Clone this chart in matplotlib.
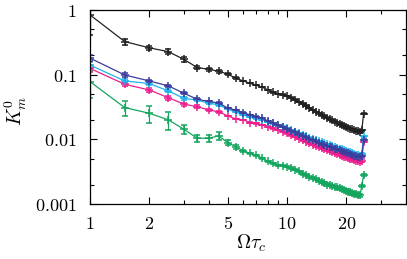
# K_m^0 versus Omega tau_c, log-log, with error bars
from matplotlib import pyplot as plt
from matplotlib.ticker import FixedLocator, NullFormatter
import matplotlib

matplotlib.rcParams['mathtext.fontset'] = 'cm'
matplotlib.rcParams['font.family'] = 'serif'
matplotlib.rcParams['font.serif'] = ['DejaVu Serif']

omega_tau = [1, 1.5, 2, 2.5, 3, 3.5, 4, 4.5, 5, 5.5, 6, 6.5, 7, 7.5, 8, 8.5,
             9, 9.5, 10, 10.5, 11, 11.5, 12, 12.5, 13, 13.5, 14, 14.5, 15, 15.5, 16, 16.5,
             17, 17.5, 18, 18.5, 19, 19.5, 20, 20.5, 21, 21.5, 22, 22.5, 23, 23.5, 24, 24.5]

k_black = [0.84, 0.325, 0.26, 0.227, 0.172, 0.129, 0.121, 0.113, 0.102, 0.088, 0.080, 0.0735,
           0.0685, 0.064, 0.058, 0.053, 0.050, 0.049, 0.0470, 0.044, 0.041, 0.038, 0.0355, 0.033,
           0.0305, 0.0285, 0.0265, 0.0252, 0.0238, 0.0226, 0.0215, 0.0205, 0.0196, 0.0187, 0.018, 0.0173,
           0.0167, 0.0161, 0.0156, 0.0151, 0.0147, 0.0143, 0.014, 0.0136, 0.0133, 0.0129, 0.0137, 0.025]
k_blue = [0.18, 0.099, 0.080, 0.067, 0.0515, 0.0418, 0.0385, 0.0365, 0.0305, 0.0284, 0.0258, 0.0238,
          0.0224, 0.0211, 0.0193, 0.0178, 0.0164, 0.0155, 0.0146, 0.0136, 0.0128, 0.0120, 0.0113, 0.0107,
          0.0102, 0.0097, 0.0093, 0.0089, 0.0086, 0.0083, 0.0080, 0.0077, 0.0075, 0.0072, 0.0070, 0.0068,
          0.0066, 0.0064, 0.0062, 0.0061, 0.0059, 0.0058, 0.0056, 0.0055, 0.0054, 0.0053, 0.0056, 0.0098]
k_cyan = [0.141, 0.080, 0.073, 0.056, 0.043, 0.0405, 0.0362, 0.0343, 0.0293, 0.0263, 0.0239, 0.0220,
          0.0211, 0.0200, 0.0188, 0.0177, 0.0167, 0.0157, 0.0148, 0.0139, 0.0131, 0.0124, 0.0117, 0.0111,
          0.0106, 0.0101, 0.0097, 0.0093, 0.0090, 0.0087, 0.0084, 0.0081, 0.0078, 0.0076, 0.0074, 0.0072,
          0.0070, 0.0068, 0.0066, 0.0064, 0.0063, 0.0061, 0.0060, 0.0058, 0.0057, 0.0056, 0.0059, 0.0112]
k_magenta = [0.125, 0.071, 0.058, 0.044, 0.035, 0.032, 0.0285, 0.0267, 0.0231, 0.0207, 0.0200, 0.0182,
             0.0177, 0.0167, 0.0157, 0.0148, 0.0139, 0.0131, 0.0124, 0.0116, 0.0109, 0.0103, 0.0097, 0.0092,
             0.0087, 0.0083, 0.0079, 0.0076, 0.0073, 0.0070, 0.0068, 0.0065, 0.0063, 0.0061, 0.0059, 0.0057,
             0.0056, 0.0054, 0.0053, 0.0051, 0.0050, 0.0049, 0.0048, 0.0047, 0.0046, 0.0045, 0.0047, 0.0092]
k_green = [0.078, 0.031, 0.0253, 0.020, 0.0143, 0.0104, 0.0104, 0.0113, 0.0089, 0.0077, 0.0066, 0.0061,
           0.0057, 0.0051, 0.0046, 0.00426, 0.0040, 0.00392, 0.0038, 0.0036, 0.0034, 0.0032, 0.0029, 0.0028,
           0.0026, 0.0025, 0.0024, 0.0023, 0.0022, 0.0021, 0.0020, 0.00195, 0.0019, 0.00185, 0.0018, 0.00175,
           0.0017, 0.00165, 0.0016, 0.00156, 0.00152, 0.00148, 0.00145, 0.00142, 0.0014, 0.00137, 0.0019, 0.0028]

# error bars (only the first points carry visible ones)
err_black_head = [0.43, 0.035, 0.02, 0.02, 0.015, 0.008, 0.006, 0.005, 0.004, 0.003]
err_blue_head = [0.02, 0.006, 0.004, 0.003, 0.002, 0.0015, 0.0012, 0.001]
err_cyan_head = [0.015, 0.005, 0.004, 0.003, 0.002, 0.0015, 0.0012, 0.001]
err_magenta_head = [0.015, 0.005, 0.004, 0.003, 0.002, 0.0015, 0.0012, 0.001]
err_green_head = [0.035, 0.008, 0.0075, 0.0063, 0.0022, 0.0012, 0.0012, 0.0015, 0.0008, 0.0005, 0.0003]

def pad(head, n, small):
    return head + [small] * (n - len(head))

n = len(omega_tau)
series = [
    (k_green, pad(err_green_head, n, 0.00008), "#14a65e"),
    (k_magenta, pad(err_magenta_head, n, 0.0002), "#ee1f8e"),
    (k_cyan, pad(err_cyan_head, n, 0.0002), "#1ab4ee"),
    (k_blue, pad(err_blue_head, n, 0.0002), "#3c3c9c"),
    (k_black, pad(err_black_head, n, 0.0004), "#222222"),
]

fig = plt.figure(figsize=(4.07, 2.59), dpi=100)
ax = fig.add_axes([90 / 407, 1 - 204 / 259, (405.5 - 90) / 407, (204 - 10) / 259])

for ys, es, c in series:
    ax.errorbar(omega_tau, ys, yerr=es, color=c, linewidth=0.9, marker='+', markersize=5.5,
                markeredgewidth=1.1, elinewidth=0.9, capsize=2, capthick=0.9)

ax.set_xscale('log')
ax.set_yscale('log')
ax.set_xlim(1, 40)
ax.set_ylim(0.001, 1)

ax.xaxis.set_major_locator(FixedLocator([1, 2, 5, 10, 20]))
ax.xaxis.set_minor_locator(FixedLocator([3, 4, 6, 7, 8, 9, 30]))
ax.set_xticklabels(['$1$', '$2$', '$5$', '$10$', '$20$'])
ax.xaxis.set_minor_formatter(NullFormatter())

ax.yaxis.set_major_locator(FixedLocator([0.001, 0.01, 0.1, 1]))
ax.yaxis.set_minor_locator(FixedLocator([0.002, 0.005, 0.02, 0.05, 0.2, 0.5]))
ax.set_yticklabels(['$0.001$', '$0.01$', '$0.1$', '$1$'])
ax.yaxis.set_minor_formatter(NullFormatter())

ax.tick_params(which='both', direction='in', top=True, right=True, labelsize=13, width=0.8)
ax.tick_params(which='major', length=5)
ax.tick_params(which='minor', length=3)
ax.tick_params(axis='y', pad=10)
ax.tick_params(axis='x', pad=8)
for s in ax.spines.values():
    s.set_linewidth(0.9)

ax.set_xlabel(r'$\Omega\tau_c$', fontsize=14)
ax.set_ylabel(r'$K_m^0$', fontsize=14)
ax.xaxis.set_label_coords(0.51, -0.205)
ax.xaxis.label.set_va('center')
ax.yaxis.set_label_coords(-0.235, 0.48)
ax.yaxis.label.set_va('center')

plt.savefig("out.png", dpi=100)
